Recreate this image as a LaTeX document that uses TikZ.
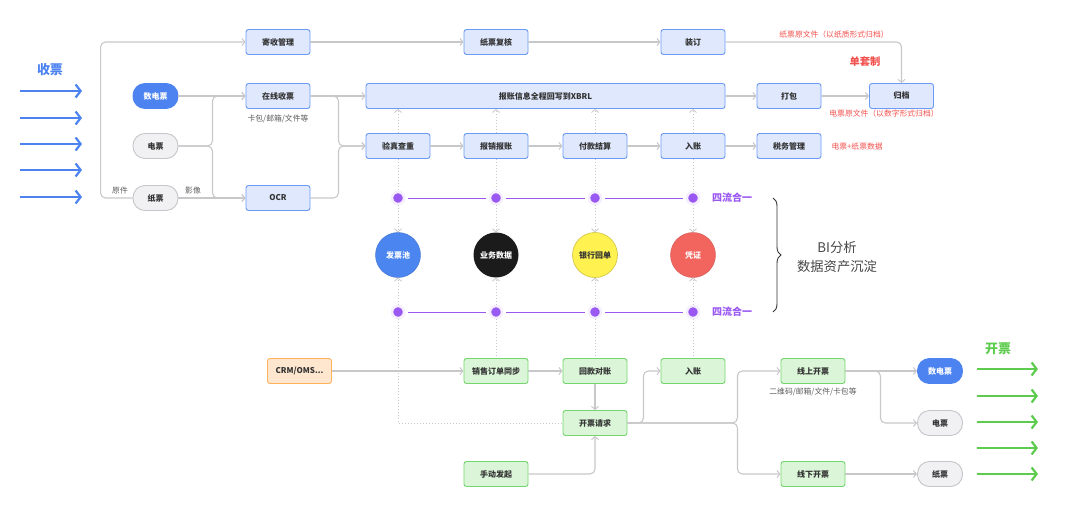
\documentclass[tikz,border=0pt]{standalone}
\usepackage{fontspec}
\newfontfamily\cjk{Noto Sans CJK SC}
\usetikzlibrary{arrows.meta,decorations.pathreplacing}
\definecolor{boxblue}{HTML}{6B9BF5}
\definecolor{boxbluefill}{HTML}{DFE8FD}
\definecolor{boxgreen}{HTML}{74D66E}
\definecolor{boxgreenfill}{HTML}{DAF5D7}
\definecolor{boxorange}{HTML}{FFB15E}
\definecolor{boxorangefill}{HTML}{FFE7CF}
\definecolor{pillgrayfill}{HTML}{F1F1F3}
\definecolor{pillgraydraw}{HTML}{C5C5CA}
\definecolor{pillbluefill}{HTML}{4C83F1}
\definecolor{linegray}{HTML}{C8C8CB}
\definecolor{textdark}{HTML}{333333}
\definecolor{redtext}{HTML}{F2524F}
\definecolor{pviolet}{HTML}{9A58F2}
\definecolor{cblue}{HTML}{4A85F0}
\definecolor{cblack}{HTML}{1B1B1B}
\definecolor{cyellow}{HTML}{FFF150}
\definecolor{cred}{HTML}{F2655E}
\definecolor{arrblue}{HTML}{4C83F1}
\definecolor{arrgreen}{HTML}{5DCC4E}

\begin{document}
\begin{tikzpicture}[x=1pt,y=-1pt,
    boxtext/.style={font=\cjk\bfseries\fontsize{8}{9}\selectfont, text=textdark},
    bluebox/.style={boxtext, draw=boxblue, fill=boxbluefill, line width=0.9pt, rounded corners=2.5pt,
      minimum width=64pt, minimum height=25pt, inner sep=0pt},
    greenbox/.style={bluebox, draw=boxgreen, fill=boxgreenfill},
    orangebox/.style={bluebox, draw=boxorange, fill=boxorangefill},
    pillgray/.style={boxtext, draw=pillgraydraw, fill=pillgrayfill, line width=0.9pt, rounded corners=12pt,
      minimum width=45pt, minimum height=25pt, inner sep=0pt},
    pillblue/.style={pillgray, draw=pillbluefill, fill=pillbluefill, text=white},
    line/.style={draw=linegray, line width=1.1pt, rounded corners=5pt},
    arr/.style={line, -{Straight Barb[length=3pt,width=7pt,line width=1pt]}},
    dotline/.style={draw=linegray, line width=1pt, dotted},
    dotarr/.style={dotline, -{Straight Barb[length=3pt,width=7pt,line width=0.8pt]}},
    pdot/.style={circle, fill=pviolet, draw=pviolet!10, line width=2.5pt, minimum size=12pt, inner sep=0pt},
    pline/.style={draw=pviolet, line width=1pt, shorten <=3pt, shorten >=3pt},
    bigc/.style={circle, minimum size=45pt, inner sep=0pt, font=\cjk\bfseries\fontsize{8}{9}\selectfont, text=white},
    small/.style={font=\cjk\fontsize{7.8}{9}\selectfont, text=textdark!80},
    redsmall/.style={font=\cjk\fontsize{7.8}{9}\selectfont, text=redtext},
    siliu/.style={font=\cjk\bfseries\fontsize{10}{12}\selectfont, text=pviolet},
    bigarr/.style={line width=2.2pt, -{Straight Barb[length=5pt,width=13pt,line width=2.2pt]}}
  ]
\useasboundingbox (0,0) rectangle (1080,506);

% receive
\node[font=\cjk\bfseries\fontsize{13}{15}\selectfont, text=arrblue] (shoupiao) at (50,70) {收票};
\foreach \y [count=\i] in {91,118,144,170,197} {
  \coordinate (ls\i) at (20,\y);
  \coordinate (le\i) at (82,\y);
  \draw[bigarr, arrblue] (ls\i) -- (le\i);
}

\node[bluebox] (jishou) at (278,42) {寄收管理};
\node[bluebox] (fuhe) at (496,42) {纸票复核};
\node[bluebox] (zhuangding) at (693,42) {装订};
\node[pillblue] (shudian1) at (155.5,96) {数电票};
\node[bluebox] (zaixian) at (278,96) {在线收票};
\node[bluebox, minimum width=359pt] (xbrl) at (545.5,96) {报账信息全程回写到XBRL};
\node[bluebox] (dabao) at (789,96) {打包};
\node[bluebox] (guidang) at (901.5,96) {归档};
\node[pillgray] (dian1) at (155.5,146) {电票};
\node[pillgray] (zhi1) at (155.5,198) {纸票};
\node[bluebox] (ocr) at (278,198) {OCR};
\node[bluebox] (yanzhen) at (398,146) {验真查重};
\node[bluebox] (baoxiao) at (496,146) {报销报账};
\node[bluebox] (fukuan) at (595,146) {付款结算};
\node[bluebox] (ruzhang1) at (693,146) {入账};
\node[bluebox] (shuiwu) at (789,146) {税务管理};

\node[small] (kabao) at (278,119) {卡包/邮箱/文件等};
\node[small] (yuanjian) at (120,191) {原件};
\node[small] (yingxiang) at (193,191) {影像};
\node[redsmall] (zhiyuan) at (834,35) {纸票原文件（以纸质形式归档）};
\node[font=\cjk\bfseries\fontsize{10.3}{12}\selectfont, text=redtext] (dantao) at (865,62) {单套制};
\node[redsmall] (dianyuan) at (884,114) {电票原文件（以数字形式归档）};
\node[redsmall, anchor=west] (shuju) at (828,147) {电票+纸票数据};

\draw[arr] (zhi1.west) -- ++(-32,0) |- (jishou.west);
\draw[arr] (jishou) -- (fuhe);
\draw[arr] (fuhe) -- (zhuangding);
\draw[arr] (zhuangding.east) -| (guidang.north);
\draw[arr] (shudian1) -- (zaixian);
\draw[arr] (dian1.east) -- ++(34,0) |- (zaixian.west);
\draw[arr] (dian1.east) -- ++(34,0) |- (ocr.west);
\draw[arr] (zhi1) -- (ocr);
\draw[arr] (zaixian) -- (xbrl);
\draw[arr] (zaixian.east) -- ++(28,0) |- (yanzhen.west);
\draw[arr] (ocr.east) -- ++(28,0) |- (yanzhen.west);
\draw[arr] (yanzhen) -- (baoxiao);
\draw[arr] (baoxiao) -- (fukuan);
\draw[arr] (fukuan) -- (ruzhang1);
\draw[arr] (ruzhang1) -- (shuiwu);
\draw[arr] (xbrl) -- (dabao);
\draw[arr] (dabao) -- (guidang);
\foreach \n in {yanzhen,baoxiao,fukuan,ruzhang1}
  \draw[dotarr] (\n.north) -- (\n.north |- xbrl.south);

% data pools
\node[pdot] (ta) at (398,198) {};
\node[pdot] (tb) at (496,198) {};
\node[pdot] (tc) at (595,198) {};
\node[pdot] (td) at (693,198) {};
\node[pdot] (ba) at (398,312) {};
\node[pdot] (bb) at (496,312) {};
\node[pdot] (bc) at (595,312) {};
\node[pdot] (bd) at (693,312) {};
\node[bigc, fill=cblue, draw=cblue!85!black, line width=0.4pt] (fapiao) at (398,255) {发票池};
\node[bigc, fill=cblack] (yewu) at (496,255) {业务数据};
\node[bigc, fill=cyellow, draw=cyellow!80!black, line width=0.6pt, text=textdark] (yinhang) at (595,255) {银行回单};
\node[bigc, fill=cred, draw=cred!85!black, line width=0.4pt] (pingzheng) at (693,255) {凭证};

\draw[pline] (ta) -- (tb);
\draw[pline] (tb) -- (tc);
\draw[pline] (tc) -- (td);
\draw[pline] (ba) -- (bb);
\draw[pline] (bb) -- (bc);
\draw[pline] (bc) -- (bd);
\node[siliu] (siliu1) at (732,198) {四流合一};
\node[siliu] (siliu2) at (732,312) {四流合一};

\draw[dotline] (yanzhen.south) -- (ta);
\draw[dotline] (baoxiao.south) -- (tb);
\draw[dotline] (fukuan.south) -- (tc);
\draw[dotline] (ruzhang1.south) -- (td);
\draw[dotarr] (ta) -- (fapiao);
\draw[dotarr] (tb) -- (yewu);
\draw[dotarr] (tc) -- (yinhang);
\draw[dotarr] (td) -- (pingzheng);
\draw[dotarr] (ba) -- (fapiao);
\draw[dotarr] (bb) -- (yewu);
\draw[dotarr] (bc) -- (yinhang);
\draw[dotarr] (bd) -- (pingzheng);

\coordinate (bracetop) at (773,198);
\coordinate (bracebot) at (773,312);
\draw[decorate, decoration={brace, amplitude=8pt}, draw=textdark, line width=0.9pt] (bracetop) -- (bracebot);
\node[font=\cjk\fontsize{13.3}{19}\selectfont, text=textdark!90, align=center] (bi) at (837,257) {BI分析\\数据资产沉淀};

% invoicing
\node[orangebox] (crm) at (299.5,371) {CRM/OMS...};
\node[greenbox] (xiaoshou) at (496,371) {销售订单同步};
\node[greenbox] (huikuan) at (595,371) {回款对账};
\node[greenbox] (ruzhang2) at (693,371) {入账};
\node[greenbox] (kaipiao) at (595,423) {开票请求};
\node[greenbox] (shoudong) at (496,474) {手动发起};
\node[greenbox] (xianshang) at (813,371) {线上开票};
\node[greenbox] (xianxia) at (813,474) {线下开票};
\node[pillblue] (shudian2) at (940,371) {数电票};
\node[pillgray] (dian2) at (940,423) {电票};
\node[pillgray] (zhi2) at (940,474) {纸票};
\node[small] (erwei) at (813,392) {二维码/邮箱/文件/卡包等};

\draw[dotline] (ba) |- (kaipiao.west);
\draw[dotline] (bb) -- (xiaoshou.north);
\draw[dotline] (bc) -- (huikuan.north);
\draw[dotline] (bd) -- (ruzhang2.north);

\draw[arr] (crm) -- (xiaoshou);
\draw[arr] (xiaoshou) -- (huikuan);
\draw[arr] (huikuan) -- (kaipiao);
\draw[arr] (shoudong.east) -| (kaipiao.south);
\draw[arr] (kaipiao.east) -- ++(16,0) |- (ruzhang2.west);
\draw[arr] (kaipiao.east) -- ++(110,0) |- (xianshang.west);
\draw[arr] (kaipiao.east) -- ++(110,0) |- (xianxia.west);
\draw[arr] (xianshang) -- (shudian2);
\draw[arr] (xianshang.east) -- ++(35,0) |- (dian2.west);
\draw[arr] (xianxia) -- (zhi2);

\node[font=\cjk\bfseries\fontsize{13}{15}\selectfont, text=arrgreen] (kaipiaolbl) at (998,349) {开票};
\foreach \y [count=\i] in {369,396,422,448,474} {
  \coordinate (rs\i) at (977,\y);
  \coordinate (re\i) at (1038,\y);
  \draw[bigarr, arrgreen] (rs\i) -- (re\i);
}

\end{tikzpicture}
\end{document}
